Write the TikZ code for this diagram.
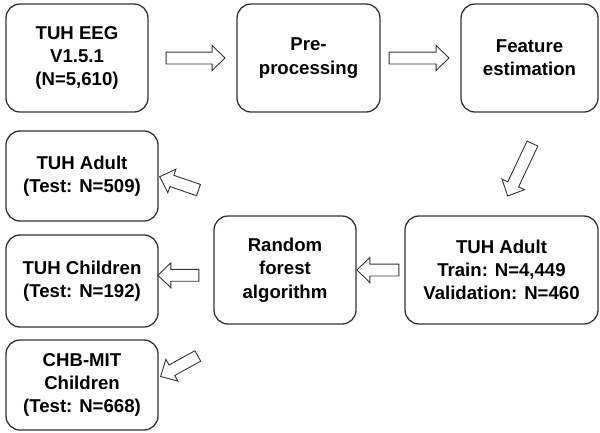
\documentclass[tikz,border=0pt]{standalone}
\usepackage{fontspec}
\setmainfont{Liberation Sans}
\usetikzlibrary{shapes.arrows}
\begin{document}
\begin{tikzpicture}[x=1pt,y=-1pt,
  box/.style={draw=black!80, line width=1.3pt, rounded corners=14pt, align=center,
    font=\fontsize{18.6}{23.3}\selectfont\bfseries, inner sep=0pt},
  barrow/.style={shape=single arrow, draw=black!80, fill=white, line width=0.9pt,
    inner sep=0pt, inner ysep=5.5pt, single arrow head extend=6.5pt,
    single arrow tip angle=88, minimum width=1pt}]
\useasboundingbox (0,0) rectangle (600,432);
\node[box, minimum width=142pt, minimum height=108pt] (eeg) at (77,58) {TUH EEG\\V1.5.1\\(N=5,610)};
\node[box, minimum width=143pt, minimum height=108pt] (pre) at (308.5,58) {Pre-\\processing};
\node[box, minimum width=137pt, minimum height=108pt] (feat) at (529.5,58) {Feature\\estimation};
\node[box, minimum width=152pt, minimum height=90pt] (adtest) at (82,176) {TUH Adult\\(Test: N=509)};
\node[box, minimum width=152pt, minimum height=92pt] (chtest) at (82,281) {TUH Children\\(Test: N=192)};
\node[box, minimum width=152pt, minimum height=90pt] (chb) at (82,385) {CHB-MIT\\Children\\(Test: N=668)};
\node[box, minimum width=142pt, minimum height=108pt] (rf) at (285,270) {Random\\forest\\algorithm};
\node[box, minimum width=193pt, minimum height=108pt] (train) at (501.5,270) {TUH Adult\\Train: N=4,449\\Validation: N=460};
\node[barrow, minimum height=59pt] (a1) at (192.5,58) {};
\node[barrow, minimum height=60pt] (a2) at (416,58) {};
\node[barrow, minimum height=58pt, rotate=244.7] (a3) at (521.4,167) {};
\node[barrow, minimum height=42pt, rotate=180] (a4) at (381,270) {};
\node[barrow, minimum height=41pt, rotate=161] (a5) at (182,184.4) {};
\node[barrow, minimum height=41pt, rotate=180] (a6) at (181.5,275.3) {};
\node[barrow, minimum height=42.5pt, rotate=208.9] (a7) at (181.9,364.7) {};
\end{tikzpicture}
\end{document}
